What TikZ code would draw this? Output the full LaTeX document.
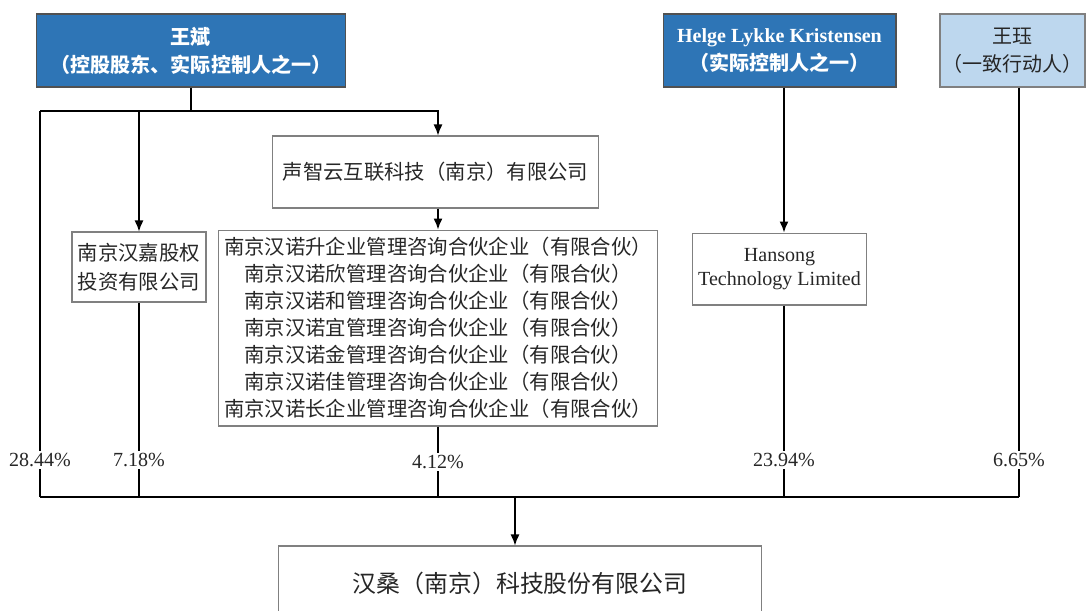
\documentclass[tikz,border=0pt]{standalone}
\usepackage{fontspec}
\setmainfont{Liberation Serif}
\newfontfamily\cjk{Noto Sans CJK SC}
\usetikzlibrary{positioning, arrows.meta}

\definecolor{darkblue}{HTML}{2E75B6}
\definecolor{lightblue}{HTML}{BDD7EE}
\definecolor{boxline}{HTML}{808080}
\definecolor{ink}{HTML}{262626}

\tikzset{
  box/.style={draw=boxline, line width=0.6pt, rectangle, align=center, inner sep=0pt,
    text=ink, font=\fontsize{11.6}{15.4}\selectfont\cjk},
  ownerbox/.style={box, fill=darkblue, draw=ink!80, text=white, minimum height=1.46cm,
    font=\fontsize{11.4}{15.9}\selectfont\cjk\bfseries},
  share/.style={fill=white, inner sep=1pt, text=ink, font=\fontsize{11.4}{13}\selectfont},
}

\begin{document}
\begin{tikzpicture}[thick, >={Latex[length=2.2mm, width=1.8mm]}, x=0.02cm, y=-0.02cm]
  \useasboundingbox (0,0) rectangle (1086,610);

  % shareholders on top
  \node[ownerbox, minimum width=6.2cm] (wangbin) at (191,50.5)
    {王斌\\（控股股东、实际控制人之一）};
  \node[ownerbox, minimum width=4.66cm] (helge) at (779.5,50.5)
    {{\rmfamily Helge Lykke Kristensen}\\（实际控制人之一）};
  \node[box, fill=lightblue, minimum width=2.9cm, minimum height=1.46cm,
    font=\fontsize{11.4}{15.9}\selectfont\cjk] (wangjue) at (1012.5,50.5)
    {王珏\\（一致行动人）};

  % holding companies
  \node[box, minimum width=6.54cm, minimum height=1.44cm] (shengzhi) at (435.5,172)
    {声智云互联科技（南京）有限公司};
  \node[box, minimum width=8.8cm, minimum height=3.92cm, below=0.42cm of shengzhi,
    xshift=0.05cm] (hannuo)
    {南京汉诺升企业管理咨询合伙企业（有限合伙）\\
     南京汉诺欣管理咨询合伙企业（有限合伙）\\
     南京汉诺和管理咨询合伙企业（有限合伙）\\
     南京汉诺宜管理咨询合伙企业（有限合伙）\\
     南京汉诺金管理咨询合伙企业（有限合伙）\\
     南京汉诺佳管理咨询合伙企业（有限合伙）\\
     南京汉诺长企业管理咨询合伙企业（有限合伙）};
  \node[box, minimum width=2.68cm, minimum height=1.4cm,
    font=\fontsize{11.6}{16.5}\selectfont\cjk] (hanjia) at (139,267)
    {南京汉嘉股权\\投资有限公司};
  \node[box, minimum width=3.48cm, minimum height=1.44cm, below=2.9cm of helge,
    font=\fontsize{11.4}{13.6}\selectfont] (hansong)
    {Hansong\\Technology Limited};

  % target company
  \node[box, minimum width=9.68cm, minimum height=1.48cm,
    font=\fontsize{13.6}{16}\selectfont\cjk] (hansang) at (520,583)
    {汉桑（南京）科技股份有限公司};

  % shareholdings
  \node[share] (wbshare) at (40,460) {28.44\%};
  \node[share] (hjshare) at (139,460) {7.18\%};
  \node[share] (hnshare) at (438,462) {4.12\%};
  \node[share] (hsshare) at (784,460) {23.94\%};
  \node[share] (wjshare) at (1019,460) {6.65\%};

  \coordinate (split) at (40,111);
  \coordinate (busl) at (40,497);
  \coordinate (busr) at (1019,497);
  \coordinate (bus) at (515,497);

  \draw (wangbin.south) -- (wangbin.south |- split);
  \draw[->] (split) -| (shengzhi.north -| hnshare);
  \draw[->] (split -| hanjia.north) -- (hanjia.north);
  \draw (split) -- (wbshare) -- (busl);
  \draw (hanjia) -- (hjshare) -- (hjshare |- busl);
  \draw[->] (shengzhi.south -| hnshare) -- (hannuo.north -| hnshare);
  \draw (hannuo.south -| hnshare) -- (hnshare) -- (hnshare |- busl);
  \draw[->] (helge.south -| hsshare) -- (hansong.north -| hsshare);
  \draw (hansong.south -| hsshare) -- (hsshare) -- (hsshare |- busl);
  \draw (wangjue.south -| wjshare) -- (wjshare) -- (busr);
  \draw (busl) -- (busr);
  \draw[->] (bus) -- (bus |- hansang.north);
\end{tikzpicture}
\end{document}
